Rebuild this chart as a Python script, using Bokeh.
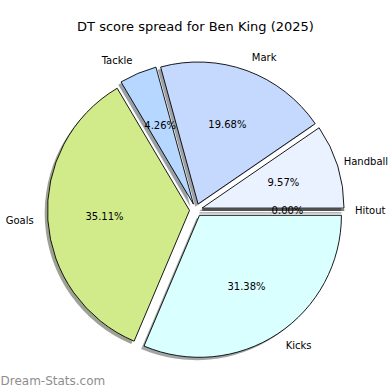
import math
from bokeh.plotting import figure
from bokeh.models import Range1d, ColumnDataSource, Label
from bokeh.embed import file_html
from bokeh.resources import INLINE
from bokeh.core.properties import value

# ---- data ----
labels = ["Hitout", "Handball", "Mark", "Tackle", "Goals", "Kicks"]
percents = [0.00, 9.57, 19.68, 4.26, 35.11, 31.38]
colors = ["#e0e8ff", "#eaf1ff", "#c5d9ff", "#b6d7ff", "#d1eb8b", "#daffff"]
title_text = "DT score spread for Ben King (2025)"
watermark_text = "Dream-Stats.com"

# ---- layout ----
W = H = 390
CX, CY = 195.4, H - 209.5
R = 142.0
EXPLODE = 0.045 * R
SHADOW = 0.02 * R
LABEL_DIST = 1.1
PCT_DIST = 0.6
FONT = "DejaVu Sans"
LABEL_PX = 10

p = figure(width=W, height=H, x_range=Range1d(0, W), y_range=Range1d(0, H),
           output_backend="svg", toolbar_location=None, min_border=0)
p.xaxis.visible = False
p.yaxis.visible = False
p.grid.visible = False
p.outline_line_color = None
p.background_fill_color = "white"
p.border_fill_color = "white"

total = sum(percents)
wx, wy, ws, we, wc = [], [], [], [], []
sx, sy, sc = [], [], []
segs = []
lx, ly, lt, la = [], [], [], []
px_, py_, pt = [], [], []

theta = 0.0
for lab, v, col in zip(labels, percents, colors):
    span = 2 * math.pi * v / total
    mid = theta + span / 2
    ex = CX + EXPLODE * math.cos(mid)
    ey = CY + EXPLODE * math.sin(mid)
    if span > 0:
        wx.append(ex); wy.append(ey); ws.append(theta); we.append(theta + span); wc.append(col)
        h = col.lstrip("#")
        rgb = [int(h[i:i + 2], 16) * 0.3 for i in (0, 2, 4)]
        sc.append("#%02x%02x%02x" % tuple(int(c) for c in rgb))
        sx.append(ex - SHADOW); sy.append(ey - SHADOW)
    else:
        segs.append((ex, ey, ex + R * math.cos(mid), ey + R * math.sin(mid)))
    xt = ex + LABEL_DIST * R * math.cos(mid)
    yt = ey + LABEL_DIST * R * math.sin(mid)
    align = "left" if xt > CX else "right"
    if align == "left":
        est_w = 0.56 * LABEL_PX * len(lab)
        xt = min(xt, W - 2 - est_w)
    lx.append(xt); ly.append(yt); lt.append(lab); la.append(align)
    px_.append(ex + PCT_DIST * R * math.cos(mid))
    py_.append(ey + PCT_DIST * R * math.sin(mid))
    pt.append(f"{v:.2f}%")
    theta += span

shadow_src = ColumnDataSource(dict(x=sx, y=sy, s=ws, e=we, c=sc))
p.wedge(x="x", y="y", radius=R, start_angle="s", end_angle="e", source=shadow_src,
        fill_color="c", fill_alpha=0.5, line_color=None)
for (x0, y0, x1, y1) in segs:
    p.segment(x0=[x0 - SHADOW], y0=[y0 - SHADOW], x1=[x1 - SHADOW], y1=[y1 - SHADOW],
              line_color="#888888", line_width=1.2, line_alpha=0.8)
wedge_src = ColumnDataSource(dict(x=wx, y=wy, s=ws, e=we, c=wc))
p.wedge(x="x", y="y", radius=R, start_angle="s", end_angle="e", source=wedge_src,
        fill_color="c", line_color="black", line_width=0.9)
for (x0, y0, x1, y1) in segs:
    p.segment(x0=[x0], y0=[y0], x1=[x1], y1=[y1], line_color="black", line_width=1.0)

lab_src = ColumnDataSource(dict(x=lx, y=ly, t=lt, a=la))
p.text(x="x", y="y", text="t", text_align="a", text_baseline="middle", source=lab_src,
       text_font=value(FONT), text_font_size=f"{LABEL_PX}px", text_color="black")
pct_src = ColumnDataSource(dict(x=px_, y=py_, t=pt))
p.text(x="x", y="y", text="t", text_align="center", text_baseline="middle", source=pct_src,
       text_font=value(FONT), text_font_size=f"{LABEL_PX}px", text_color="black")

p.add_layout(Label(x=195, y=H - 25.5, text=title_text, text_align="center",
                   text_baseline="middle", text_font=FONT, text_font_size="13px",
                   text_color="black"))
p.add_layout(Label(x=0, y=H - 380.7, text=watermark_text, text_align="left",
                   text_baseline="middle", text_font=FONT, text_font_size="12px",
                   text_color="#8e8e8e"))

open("out.html", "w").write(file_html(p, INLINE))
